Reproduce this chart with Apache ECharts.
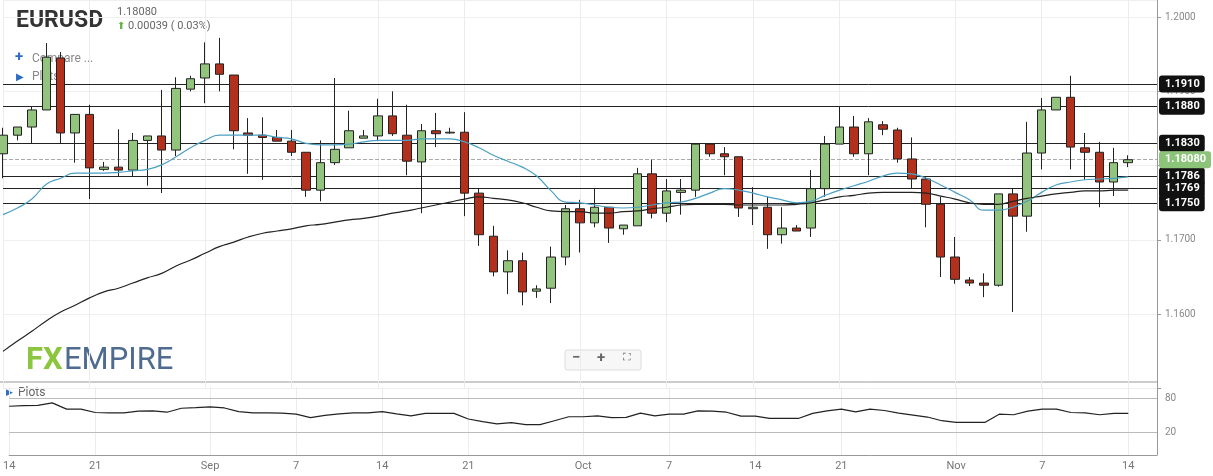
<!DOCTYPE html>
<html>
<head>
<meta charset="utf-8">
<script src="https://cdn.jsdelivr.net/npm/echarts@6/dist/echarts.min.js"></script>
<style>html,body{margin:0;padding:0;background:#fff}#main{width:1213px;height:476px}</style>
</head>
<body>
<div id="main"></div>
<script>
// daily candles: [open, close, low, high]
var candles = [
  [1.1816,1.1841,1.1783,1.1851],[1.1841,1.1852,1.1834,1.1852],[1.1852,1.1875,1.1830,1.1880],[1.1875,1.1946,1.1875,1.1965],
  [1.1945,1.1844,1.1830,1.1953],[1.1844,1.1869,1.1804,1.1869],[1.1869,1.1797,1.1755,1.1882],[1.1795,1.1798,1.1793,1.1805],
  [1.1798,1.1794,1.1786,1.1849],[1.1794,1.1834,1.1786,1.1844],[1.1834,1.1840,1.1773,1.1840],[1.1840,1.1821,1.1763,1.1902],
  [1.1821,1.1904,1.1813,1.1919],[1.1903,1.1917,1.1900,1.1921],[1.1918,1.1937,1.1884,1.1966],[1.1937,1.1923,1.1900,1.1972],
  [1.1922,1.1847,1.1822,1.1922],[1.1844,1.1841,1.1789,1.1864],[1.1841,1.1838,1.1781,1.1865],[1.1838,1.1833,1.1833,1.1848],
  [1.1833,1.1818,1.1813,1.1848],[1.1818,1.1767,1.1758,1.1818],[1.1767,1.1804,1.1752,1.1834],[1.1804,1.1822,1.1801,1.1918],
  [1.1824,1.1847,1.1824,1.1874],[1.1837,1.1840,1.1837,1.1848],[1.1840,1.1867,1.1833,1.1890],[1.1867,1.1843,1.1840,1.1900],
  [1.1841,1.1806,1.1787,1.1882],[1.1805,1.1847,1.1736,1.1856],[1.1847,1.1843,1.1825,1.1871],[1.1844,1.1845,1.1843,1.1851],
  [1.1845,1.1763,1.1732,1.1872],[1.1763,1.1707,1.1692,1.1770],[1.1705,1.1657,1.1651,1.1719],[1.1657,1.1672,1.1627,1.1686],
  [1.1672,1.1630,1.1612,1.1683],[1.1631,1.1634,1.1622,1.1639],[1.1635,1.1677,1.1615,1.1691],[1.1677,1.1742,1.1666,1.1747],
  [1.1742,1.1723,1.1683,1.1754],[1.1723,1.1744,1.1717,1.1770],[1.1744,1.1716,1.1696,1.1744],[1.1715,1.1720,1.1707,1.1720],
  [1.1719,1.1789,1.1719,1.1797],[1.1789,1.1736,1.1729,1.1808],[1.1736,1.1766,1.1724,1.1782],[1.1764,1.1767,1.1734,1.1782],
  [1.1767,1.1829,1.1758,1.1830],[1.1829,1.1816,1.1812,1.1829],[1.1816,1.1812,1.1787,1.1825],[1.1812,1.1743,1.1731,1.1812],
  [1.1742,1.1744,1.1720,1.1771],[1.1744,1.1707,1.1688,1.1758],[1.1707,1.1716,1.1695,1.1744],[1.1716,1.1712,1.1712,1.1720],
  [1.1716,1.1769,1.1704,1.1794],[1.1769,1.1829,1.1758,1.1840],[1.1829,1.1852,1.1829,1.1880],[1.1852,1.1816,1.1812,1.1867],
  [1.1816,1.1859,1.1787,1.1864],[1.1855,1.1849,1.1841,1.1860],[1.1848,1.1809,1.1804,1.1851],[1.1809,1.1782,1.1770,1.1838],
  [1.1782,1.1748,1.1717,1.1785],[1.1748,1.1677,1.1650,1.1758],[1.1677,1.1647,1.1641,1.1704],[1.1646,1.1642,1.1638,1.1650],
  [1.1642,1.1639,1.1623,1.1655],[1.1639,1.1762,1.1637,1.1762],[1.1762,1.1732,1.1603,1.1770],[1.1732,1.1817,1.1711,1.1859],
  [1.1817,1.1875,1.1795,1.1891],[1.1875,1.1892,1.1875,1.1892],[1.1892,1.1825,1.1795,1.1921],[1.1824,1.1818,1.1781,1.1844],
  [1.1818,1.1778,1.1744,1.1832],[1.1778,1.1804,1.1759,1.1824],[1.1804,1.1808,1.1798,1.1814]
];

var fastMA = [
  1.1734,1.1743,1.1755,1.1775,1.1783,1.1790,1.1790,1.1790,1.1791,1.1793,
  1.1795,1.1801,1.1812,1.1824,1.1834,1.1841,1.1841,1.1841,1.1841,1.1838,
  1.1836,1.1830,1.1828,1.1828,1.1829,1.1832,1.1834,1.1834,1.1834,1.1836,
  1.1836,1.1836,1.1832,1.1824,1.1814,1.1806,1.1798,1.1786,1.1766,1.1751,
  1.1750,1.1747,1.1744,1.1743,1.1744,1.1747,1.1750,1.1751,1.1756,1.1763,
  1.1769,1.1767,1.1763,1.1758,1.1754,1.1750,1.1752,1.1760,1.1767,1.1773,
  1.1779,1.1786,1.1790,1.1789,1.1783,1.1774,1.1764,1.1754,1.1740,1.1740,
  1.1744,1.1752,1.1764,1.1774,1.1778,1.1781,1.1782,1.1783,1.1785
];

var slowMA = [
  1.1550,1.1564,1.1577,1.1591,1.1603,1.1612,1.1622,1.1630,1.1635,1.1642,
  1.1649,1.1655,1.1665,1.1673,1.1682,1.1691,1.1697,1.1704,1.1709,1.1712,
  1.1715,1.1719,1.1721,1.1724,1.1727,1.1729,1.1732,1.1736,1.1739,1.1743,
  1.1747,1.1751,1.1755,1.1758,1.1756,1.1754,1.1750,1.1744,1.1739,1.1738,
  1.1738,1.1736,1.1736,1.1738,1.1739,1.1742,1.1744,1.1747,1.1748,1.1748,
  1.1748,1.1747,1.1747,1.1747,1.1747,1.1748,1.1750,1.1754,1.1758,1.1760,
  1.1763,1.1764,1.1764,1.1764,1.1763,1.1759,1.1755,1.1750,1.1748,1.1748,
  1.1752,1.1756,1.1759,1.1762,1.1764,1.1766,1.1766,1.1767,1.1767
];

var oscillator = [
  66,67,67.5,72,61,61,55,54.5,54.5,57.5,
  58,55.5,62.5,63.5,65,63,56.5,54.5,54.5,54,
  52,46,50,52.5,54.5,54.5,56.5,52.5,49,53.5,
  53.5,53.5,43.5,39,35,37,33.5,33.5,40.5,47.5,
  47.5,49,46,46.5,54,49,52,52,58,57.5,
  55.5,48.5,48.5,44.5,44.5,44.5,53.5,58,61,56,
  61,58.5,54,50.5,47,40.5,37.5,37.5,37.5,52,
  51,57.5,61,61,55,54.5,51,53.5,53.5
];

var levels = [1.1910, 1.1880, 1.1830, 1.1786, 1.1769, 1.1750];
var lastPrice = 1.18080;
var tickLabels = {0:'14',6:'21',14:'Sep',20:'7',26:'14',32:'21',40:'Oct',46:'7',52:'14',58:'21',66:'Nov',72:'7',78:'14'};

var nCats = 81;
var cats = [];
for (var i = 0; i < nCats; i++) cats.push(tickLabels[i] || '');
function isTick(i) { return tickLabels[i] !== undefined; }

var font = 'Roboto, "Noto Sans", sans-serif';
var myChart = echarts.init(document.getElementById('main'));

function tagLine(v, text, bg, lineStyle) {
  return [
    {coord: [0, v], lineStyle: lineStyle},
    {coord: [nCats - 1, v], label: {show: true, position: 'end', distance: 2, formatter: text, backgroundColor: bg,
      color: '#fff', fontWeight: 'bold', fontSize: 11, padding: [3, 5, 3, 6], borderRadius: 3, fontFamily: font}}
  ];
}
var levelLines = levels.map(function (v) {
  return tagLine(v, v.toFixed(4), '#111', {color: '#222', width: 1, type: 'solid'});
});
levelLines.push(tagLine(lastPrice, lastPrice.toFixed(5), '#8cc47a', {color: '#aaa', width: 1, type: 'dashed'}));

var option = {
  animation: false,
  textStyle: {fontFamily: font},
  grid: [
    {left: 3, right: 56, top: 0, bottom: 87.5},
    {left: 3, right: 56, top: 387, bottom: 21}
  ],
  xAxis: [
    {type: 'category', gridIndex: 0, data: cats, boundaryGap: false,
      axisLine: {show: false}, axisTick: {show: false}, axisLabel: {show: false},
      splitLine: {show: true, interval: function (i) { return isTick(i); }, lineStyle: {color: '#ececec'}}},
    {type: 'category', gridIndex: 1, data: cats, boundaryGap: false,
      axisLine: {onZero: false, lineStyle: {color: '#999'}}, axisTick: {show: false},
      axisLabel: {interval: function (i) { return isTick(i); }, color: '#777', fontSize: 11, margin: 6},
      splitLine: {show: true, interval: function (i) { return isTick(i); }, lineStyle: {color: '#ececec'}}}
  ],
  yAxis: [
    {type: 'value', gridIndex: 0, position: 'right', min: 1.15, max: 1.2023, interval: 0.01,
      axisLine: {show: true, lineStyle: {color: '#999'}}, axisTick: {show: true, length: 4, lineStyle: {color: '#999'}},
      axisLabel: {color: '#888', fontSize: 10, margin: 8, showMaxLabel: false,
        formatter: function (v) { return (v < 1.155 || v > 1.2005) ? '' : v.toFixed(4); }},
      splitLine: {show: true, lineStyle: {color: '#efefef'}}},
    {type: 'value', gridIndex: 1, position: 'right', min: -20, max: 100, interval: 20,
      axisLine: {show: true, lineStyle: {color: '#999'}}, axisTick: {show: false},
      axisLabel: {color: '#888', fontSize: 10, margin: 8,
        formatter: function (v) { return (v === 20 || v === 80) ? String(v) : ''; }},
      splitLine: {show: false}}
  ],
  graphic: [
    {type: 'line', shape: {x1: 0, y1: 382, x2: 1157, y2: 382}, style: {stroke: '#999', lineWidth: 1}},
    {type: 'text', left: 16, top: 10, style: {text: 'EURUSD', font: 'bold 23px ' + font, fill: '#333'}},
    {type: 'text', left: 117, top: 7, style: {text: '1.18080', font: '11px ' + font, fill: '#666'}},
    {type: 'text', left: 117, top: 21, style: {text: '⬆', font: '10px ' + font, fill: '#6ab04c'}},
    {type: 'text', left: 128, top: 21, style: {text: '0.00039 ( 0.03%)', font: '11px ' + font, fill: '#666'}},
    {type: 'text', left: 15, top: 50, style: {text: '+', font: 'bold 15px ' + font, fill: '#2b6cc4'}},
    {type: 'text', left: 32, top: 53, style: {text: 'Compare ...', font: '12px ' + font, fill: '#888'}},
    {type: 'text', left: 16, top: 72, style: {text: '▶', font: '10px ' + font, fill: '#2b6cc4'}},
    {type: 'text', left: 32, top: 71, style: {text: 'Plots', font: '12px ' + font, fill: '#888'}},
    {type: 'text', left: 6, top: 388, style: {text: '▶', font: '9px ' + font, fill: '#2b6cc4'}},
    {type: 'text', left: 18, top: 387, style: {text: 'Plots', font: '12px ' + font, fill: '#666'}},
    {type: 'text', left: 26, top: 346, style: {text: 'FX', font: 'bold 31px ' + font, fill: '#8cc63f'}},
    {type: 'text', left: 64, top: 346, style: {text: 'EMPIRE', font: '31px ' + font, fill: '#4f6b8f'}},
    {type: 'rect', shape: {x: 565, y: 350, width: 76, height: 20, r: 2}, style: {fill: '#f7f7f7', stroke: '#ddd'}},
    {type: 'text', left: 572, top: 351, style: {text: '−', font: 'bold 15px ' + font, fill: '#666'}},
    {type: 'text', left: 597, top: 351, style: {text: '+', font: 'bold 15px ' + font, fill: '#666'}},
    {type: 'text', left: 623, top: 353, style: {text: '⛶', font: '11px ' + font, fill: '#666'}}
  ],
  series: [
    {
      type: 'candlestick', xAxisIndex: 0, yAxisIndex: 0, data: candles, barWidth: 9, z: 3,
      itemStyle: {color: '#93c47d', color0: '#b3311c', borderColor: '#222', borderColor0: '#222', borderWidth: 1}
    },
    {type: 'line', xAxisIndex: 0, yAxisIndex: 0, data: fastMA, showSymbol: false, smooth: true, z: 4,
      lineStyle: {color: '#4a9fc2', width: 1.2},
      markLine: {symbol: 'none', silent: true, z: 1, label: {show: true}, data: levelLines}},
    {type: 'line', xAxisIndex: 0, yAxisIndex: 0, data: slowMA, showSymbol: false, smooth: true, z: 4,
      lineStyle: {color: '#222', width: 1.2}},
    {type: 'line', xAxisIndex: 1, yAxisIndex: 1, data: oscillator, showSymbol: false,
      lineStyle: {color: '#222', width: 1.2},
      markLine: {symbol: 'none', silent: true, label: {show: false},
        lineStyle: {color: '#bbb', type: 'solid', width: 1}, data: [{yAxis: 20}, {yAxis: 80}]}}
  ]
};

myChart.setOption(option);
</script>
</body>
</html>
